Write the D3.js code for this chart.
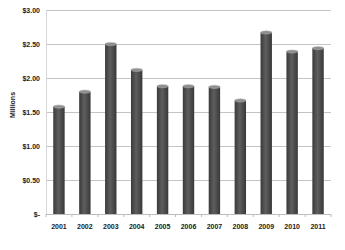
<!DOCTYPE html>
<style>
body { margin: 0; background: #fff; }
.axis text { font-family: "Liberation Sans Narrow", "Liberation Sans", sans-serif; font-size: 7px; font-weight: bold; fill: #1a1a1a; }
.axis .domain { display: none; }
</style>
<svg id="chart" width="345" height="250"></svg>
<script src="https://d3js.org/d3.v7.min.js"></script>
<script>

var years = ["2001", "2002", "2003", "2004", "2005", "2006", "2007", "2008", "2009", "2010", "2011"];
var values = [1.58, 1.80, 2.50, 2.12, 1.88, 1.88, 1.87, 1.67, 2.67, 2.39, 2.44];
var yTicks = [0, 0.5, 1, 1.5, 2, 2.5, 3];

var svg = d3.select("#chart"),
  margin = {top: 10, right: 14, bottom: 36, left: 46},
  width = +svg.attr("width") - margin.left - margin.right,
  height = +svg.attr("height") - margin.top - margin.bottom,
  g = svg.append("g").attr("transform", "translate(" + margin.left + "," + margin.top + ")");

var x = d3.scaleBand().domain(years).range([0, width]).paddingInner(0.56).paddingOuter(0.28);
var y = d3.scaleLinear().domain([0, 3]).range([height, 0]);

var defs = svg.append("defs");
var grad = defs.append("linearGradient").attr("id", "cyl").attr("x1", 0).attr("x2", 1).attr("y1", 0).attr("y2", 0);
grad.append("stop").attr("offset", "0%").attr("stop-color", "#3a3a3a");
grad.append("stop").attr("offset", "45%").attr("stop-color", "#5e5e5e");
grad.append("stop").attr("offset", "100%").attr("stop-color", "#383838");

// gridlines
g.append("g")
  .selectAll("line")
  .data(yTicks.slice(1))
  .enter().append("line")
    .attr("x1", 0).attr("x2", width)
    .attr("y1", function(d) { return y(d) + 0.5; })
    .attr("y2", function(d) { return y(d) + 0.5; })
    .attr("stroke", "#c4c4c4").attr("stroke-width", 1.2);

// y axis
g.append("g")
  .attr("class", "axis")
  .call(d3.axisLeft(y).tickValues(yTicks).tickSize(0).tickPadding(6)
    .tickFormat(function(d) { return d === 0 ? "$-" : "$" + d.toFixed(2); }));

g.append("line").attr("x1", 0.5).attr("x2", 0.5).attr("y1", 0).attr("y2", height)
  .attr("stroke", "#d8d8d8");

// bars
var bar = g.append("g").selectAll("g").data(values).enter().append("g");
bar.append("rect")
  .attr("x", function(d, i) { return x(years[i]); })
  .attr("y", function(d) { return y(d); })
  .attr("width", x.bandwidth())
  .attr("height", function(d) { return height - y(d); })
  .attr("fill", "url(#cyl)");
bar.append("ellipse")
  .attr("cx", function(d, i) { return x(years[i]) + x.bandwidth() / 2; })
  .attr("cy", function(d) { return y(d); })
  .attr("rx", x.bandwidth() / 2)
  .attr("ry", 1.6)
  .attr("fill", "#8e8e8e").attr("stroke", "#b8b8b8").attr("stroke-width", 0.5);

// x axis
g.append("line").attr("x1", 0).attr("x2", width).attr("y1", height + 0.5).attr("y2", height + 0.5)
  .attr("stroke", "#bdbdbd");
g.append("g").selectAll("line")
  .data(d3.range(years.length + 1))
  .enter().append("line")
    .attr("x1", function(d) { return d * width / years.length; })
    .attr("x2", function(d) { return d * width / years.length; })
    .attr("y1", height).attr("y2", height + 3)
    .attr("stroke", "#bdbdbd");

g.append("g")
  .attr("class", "axis")
  .attr("transform", "translate(0," + height + ")")
  .call(d3.axisBottom(x).tickSize(0).tickPadding(10));

svg.append("text")
  .attr("transform", "translate(15," + (margin.top + 95) + ") rotate(-90)")
  .attr("text-anchor", "middle")
  .attr("font-family", "Liberation Sans Narrow, Liberation Sans, sans-serif")
  .attr("font-size", 7).attr("font-weight", "bold").attr("fill", "#1a1a1a")
  .text("Millions");

</script>
